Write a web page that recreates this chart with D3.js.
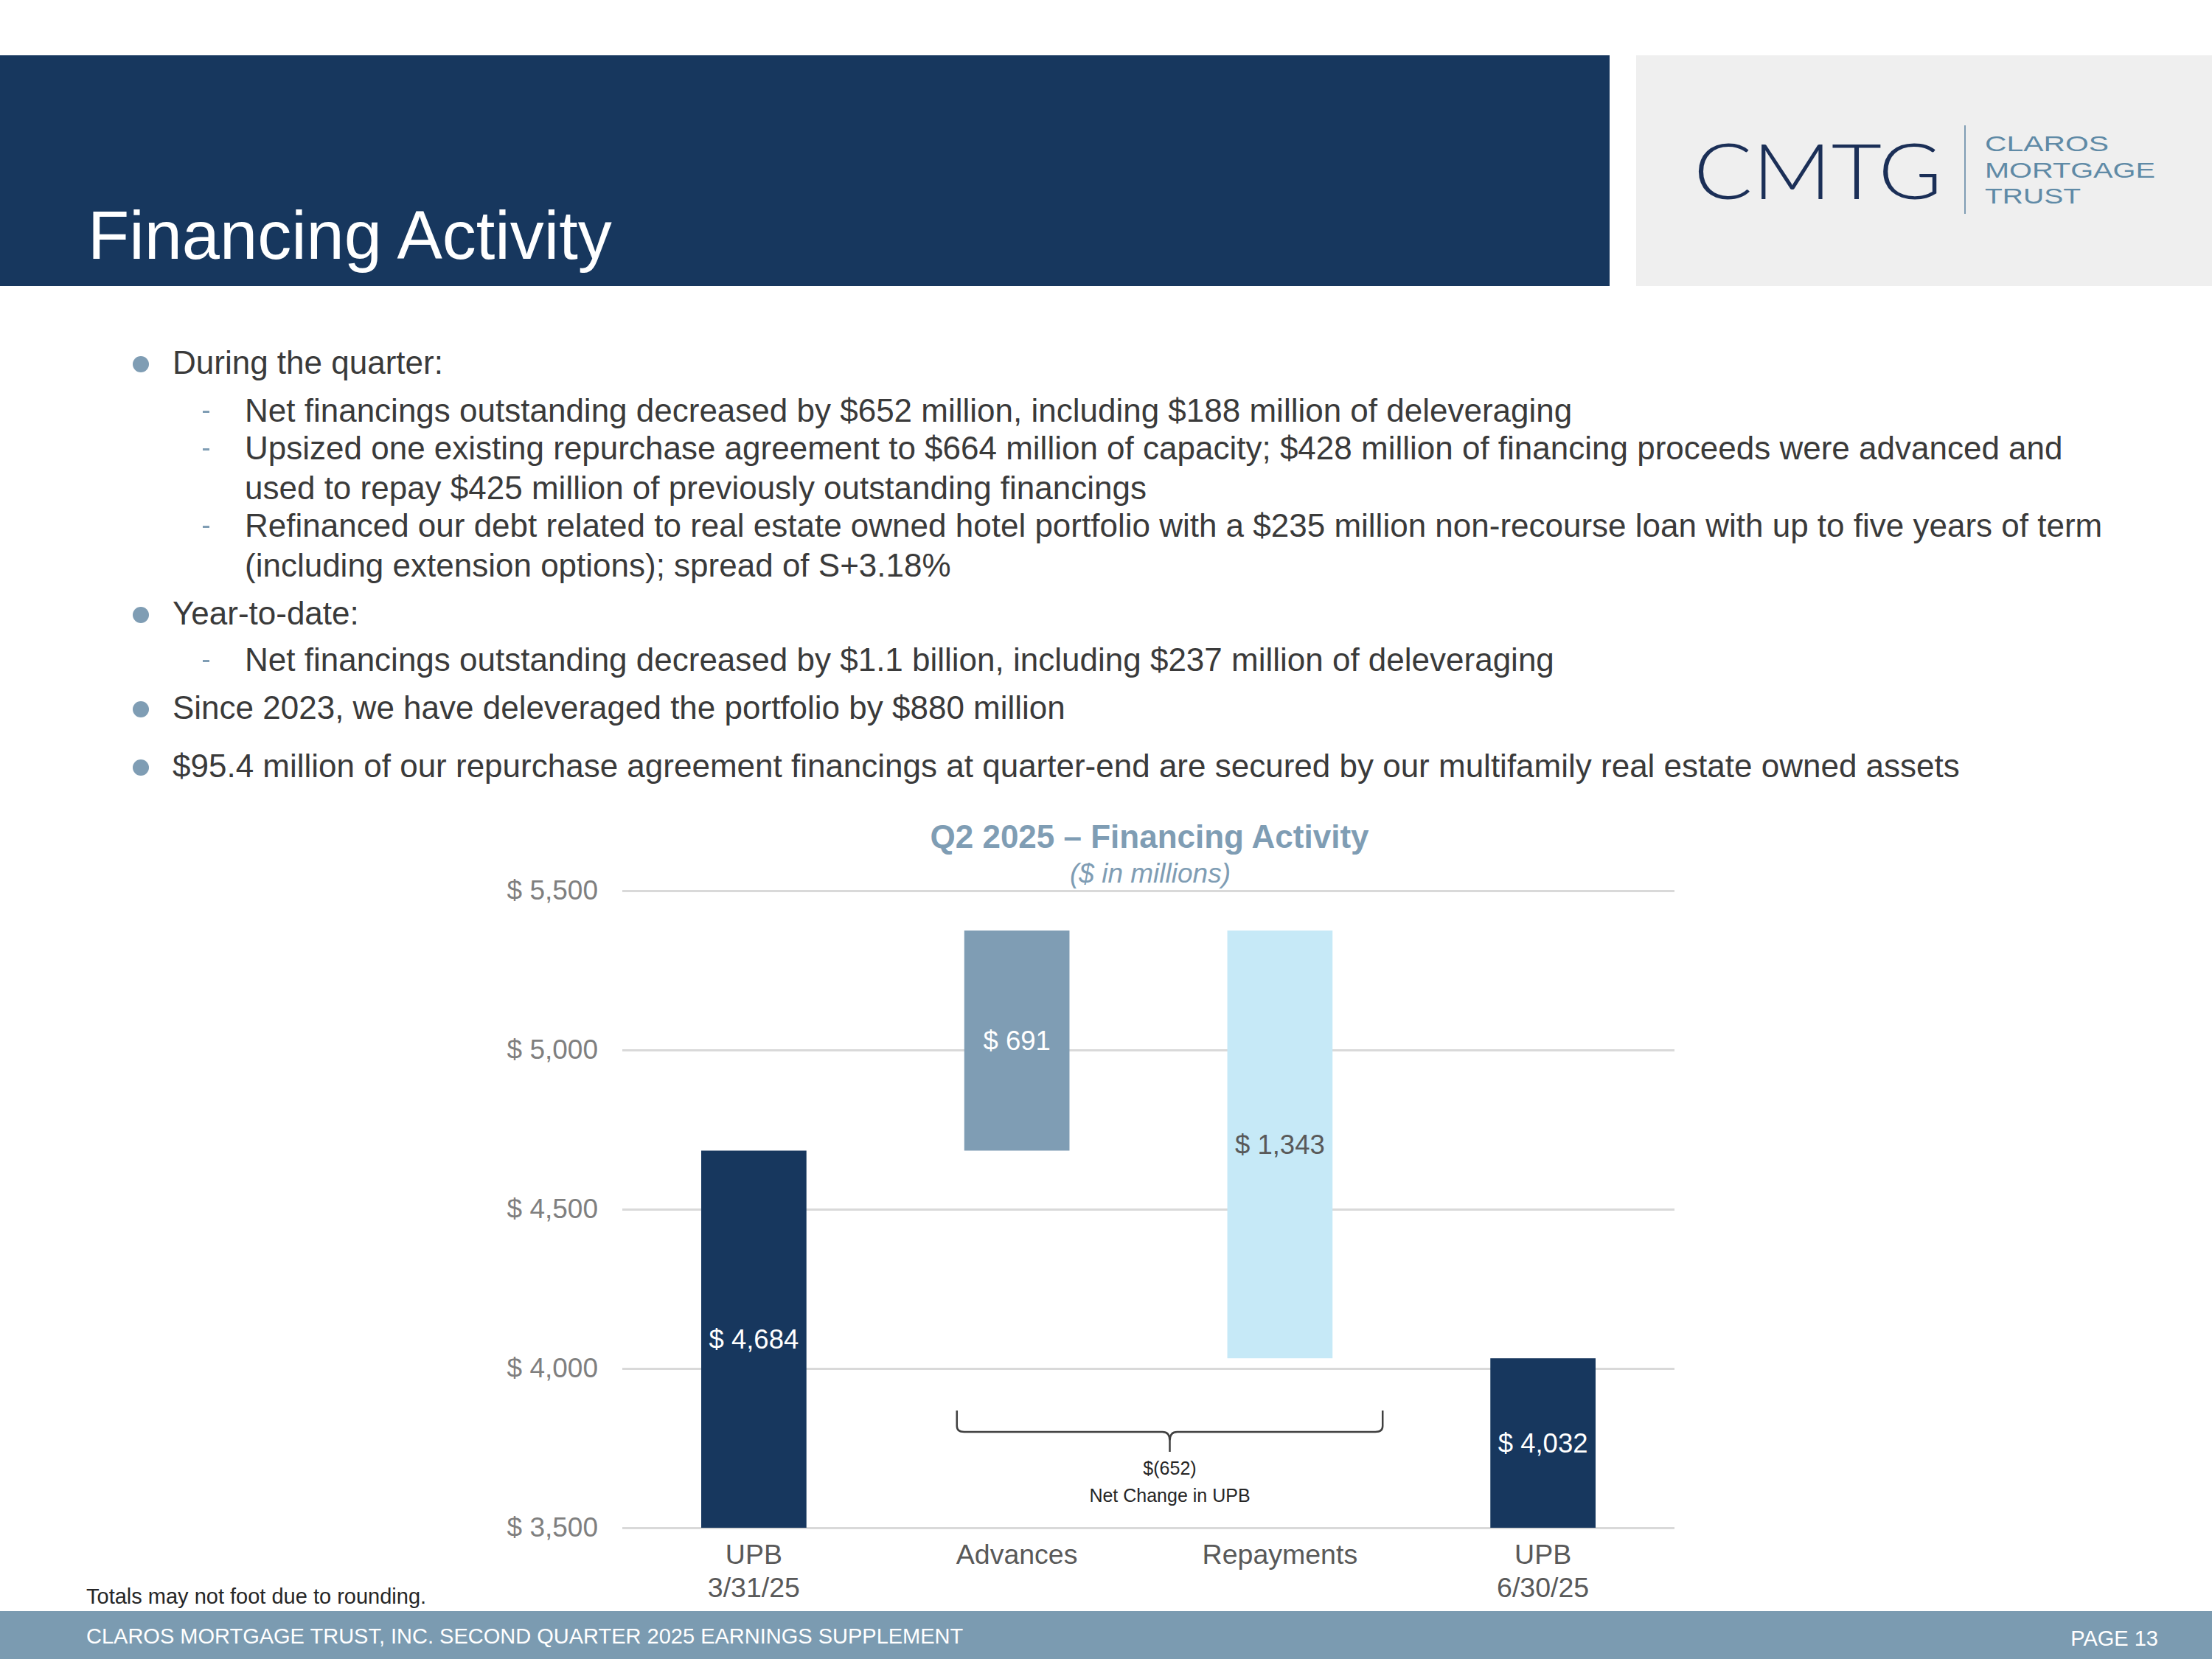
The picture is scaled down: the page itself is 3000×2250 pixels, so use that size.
<!DOCTYPE html>
<html lang="en">
<head>
<meta charset="utf-8">
<title>Financing Activity</title>
<script src="https://cdn.jsdelivr.net/npm/d3@7"></script>
<style>
  body { margin: 0; background: #fff; }
  svg { display: block; font-family: Arial, "Liberation Sans", sans-serif; }
</style>
</head>
<body>
<svg id="page" width="3000" height="2250"></svg>
<script>
// chart data ($ in millions)
const categories = ["UPB 3/31/25", "Advances", "Repayments", "UPB 6/30/25"];
const catLabels = [["UPB", "3/31/25"], ["Advances"], ["Repayments"], ["UPB", "6/30/25"]];
const values = [4684, 691, -1343, 4032];
const kinds = ["total", "delta", "delta", "total"];
const barColors = ["#17375e", "#7f9db4", "#c6e9f7", "#17375e"];
const labelColors = ["#ffffff", "#ffffff", "#595959", "#ffffff"];
const yTicks = [3500, 4000, 4500, 5000, 5500];
const netChange = -652;

// slide text
const bullets = [
  {level: 1, lines: ["During the quarter:"]},
  {level: 2, lines: ["Net financings outstanding decreased by $652 million, including $188 million of deleveraging"]},
  {level: 2, lines: ["Upsized one existing repurchase agreement to $664 million of capacity; $428 million of financing proceeds were advanced and",
                     "used to repay $425 million of previously outstanding financings"]},
  {level: 2, lines: ["Refinanced our debt related to real estate owned hotel portfolio with a $235 million non-recourse loan with up to five years of term",
                     "(including extension options); spread of S+3.18%"]},
  {level: 1, lines: ["Year-to-date:"]},
  {level: 2, lines: ["Net financings outstanding decreased by $1.1 billion, including $237 million of deleveraging"]},
  {level: 1, lines: ["Since 2023, we have deleveraged the portfolio by $880 million"]},
  {level: 1, lines: ["$95.4 million of our repurchase agreement financings at quarter-end are secured by our multifamily real estate owned assets"]}
];
const bulletBaselines = [[507], [572], [623, 677], [728, 782], [847], [910], [975], [1054]];

const svg = d3.select("#page");

// header band + logo box
svg.append("rect").attr("x", 0).attr("y", 75).attr("width", 2183).attr("height", 313).attr("fill", "#17375e");
svg.append("text").attr("x", 119).attr("y", 351).attr("fill", "#fff")
  .attr("font-size", 92).text("Financing Activity");

svg.append("rect").attr("x", 2219).attr("y", 75).attr("width", 781).attr("height", 313).attr("fill", "#efefef");
svg.append("text").attr("x", 2297).attr("y", 270).attr("fill", "#1b2f57")
  .attr("font-size", 104).attr("textLength", 337).attr("lengthAdjust", "spacingAndGlyphs")
  .style("font-family", "Lato, Arial, sans-serif").style("font-weight", 300).text("CMTG");
svg.append("line").attr("x1", 2665).attr("x2", 2665).attr("y1", 170).attr("y2", 290)
  .attr("stroke", "#7f9db4").attr("stroke-width", 2);
const logoWords = ["CLAROS", "MORTGAGE", "TRUST"];
const logoWidths = [168, 231, 130];
logoWords.forEach((w, i) => {
  svg.append("text").attr("x", 2692).attr("y", 205 + i * 35.5).attr("fill", "#5f8aa6")
    .attr("font-size", 30).attr("textLength", logoWidths[i]).attr("lengthAdjust", "spacingAndGlyphs")
    .text(w);
});

// bullets
const bulletG = svg.append("g").attr("fill", "#3a3a3a").attr("font-size", 44);
bullets.forEach((b, i) => {
  const base = bulletBaselines[i];
  if (b.level == 1) {
    bulletG.append("circle").attr("cx", 191).attr("cy", base[0] - 13).attr("r", 11).attr("fill", "#7f9db4");
  } else {
    bulletG.append("rect").attr("x", 275).attr("y", base[0] - 15).attr("width", 9).attr("height", 3).attr("fill", "#7f9db4");
  }
  b.lines.forEach((l, j) => {
    bulletG.append("text").attr("x", b.level == 1 ? 234 : 332).attr("y", base[j]).text(l);
  });
});

// waterfall chart
const x = d3.scaleBand().domain(categories).range([844, 2271]).paddingInner(0.6).paddingOuter(0.3);
const y = d3.scaleLinear().domain([3500, 5500]).range([2072, 1208]);

let running = 0;
const bars = categories.map((c, i) => {
  let lo, hi;
  if (kinds[i] == "total") {
    lo = y.domain()[0]; hi = values[i]; running = values[i];
  } else {
    lo = running; hi = running + values[i]; running = hi;
  }
  return {cat: c, lo: Math.min(lo, hi), hi: Math.max(lo, hi), v: values[i], i: i};
});

const chart = svg.append("g");

chart.append("text").attr("x", 1559).attr("y", 1150).attr("text-anchor", "middle")
  .attr("font-size", 44).attr("font-weight", "bold").attr("fill", "#7f9db4")
  .text("Q2 2025 \u2013 Financing Activity");
chart.append("text").attr("x", 1560).attr("y", 1197).attr("text-anchor", "middle")
  .attr("font-size", 37).attr("font-style", "italic").attr("fill", "#7f9db4")
  .text("($ in millions)");

const yAxis = chart.append("g").attr("transform", "translate(844,0)")
  .call(d3.axisLeft(y).tickValues(yTicks).tickSize(-(2271 - 844)).tickPadding(33)
    .tickFormat(d => "$ " + d3.format(",")(d)));
yAxis.select(".domain").remove();
yAxis.selectAll(".tick line").attr("stroke", "#d9d9d9").attr("stroke-width", 3);
yAxis.selectAll(".tick text").attr("fill", "#7f7f7f").attr("font-size", 37)
  .style("font-family", "Arial, 'Liberation Sans', sans-serif");

chart.append("g").selectAll("rect").data(bars).enter()
  .append("rect")
  .attr("x", d => x(d.cat))
  .attr("width", x.bandwidth())
  .attr("y", d => y(d.hi))
  .attr("height", d => y(d.lo) - y(d.hi))
  .attr("fill", d => barColors[d.i]);

chart.append("g").selectAll("text").data(bars).enter()
  .append("text")
  .attr("x", d => x(d.cat) + x.bandwidth() / 2)
  .attr("y", d => (y(d.lo) + y(d.hi)) / 2)
  .attr("dy", "0.35em")
  .attr("text-anchor", "middle")
  .attr("font-size", 36.5)
  .attr("fill", d => labelColors[d.i])
  .text(d => "$ " + d3.format(",")(Math.abs(d.v)));

const xLab = chart.append("g").selectAll("text").data(categories).enter()
  .append("text")
  .attr("text-anchor", "middle")
  .attr("font-size", 37.5)
  .attr("fill", "#595959");
xLab.each(function(c, i) {
  catLabels[i].forEach((l, j) => {
    d3.select(this).append("tspan")
      .attr("x", x(c) + x.bandwidth() / 2)
      .attr("y", 2121 + j * 45)
      .text(l);
  });
});

// brace for net change between advances and repayments
const bL = x("Advances") - 10, bR = x("Repayments") + x.bandwidth() + 68;
const bTop = 1913, bH = 1942, bTip = 1969, tx = (bL + bR) / 2;
chart.append("path")
  .attr("d", `M${bL},${bTop} V${bH - 8} Q${bL},${bH} ${bL + 10},${bH} H${tx - 10} Q${tx},${bH} ${tx},${bH + 12} V${bTip}
              M${tx},${bH + 12} Q${tx},${bH} ${tx + 10},${bH} H${bR - 10} Q${bR},${bH} ${bR},${bH - 8} V${bTop}`)
  .attr("fill", "none").attr("stroke", "#404040").attr("stroke-width", 2.5);
chart.append("text").attr("x", tx).attr("y", 2000).attr("text-anchor", "middle")
  .attr("font-size", 25).attr("fill", "#262626").text("$(" + Math.abs(netChange) + ")");
chart.append("text").attr("x", tx).attr("y", 2037).attr("text-anchor", "middle")
  .attr("font-size", 25).attr("fill", "#262626").text("Net Change in UPB");

// footnote + footer
svg.append("text").attr("x", 117).attr("y", 2175).attr("font-size", 29).attr("fill", "#262626")
  .text("Totals may not foot due to rounding.");
svg.append("rect").attr("x", 0).attr("y", 2185).attr("width", 3000).attr("height", 65).attr("fill", "#7b9bb1");
svg.append("text").attr("x", 117).attr("y", 2229).attr("font-size", 29).attr("fill", "#fff")
  .text("CLAROS MORTGAGE TRUST, INC. SECOND QUARTER 2025 EARNINGS SUPPLEMENT");
svg.append("text").attr("x", 2927).attr("y", 2232).attr("text-anchor", "end").attr("font-size", 29).attr("fill", "#fff")
  .text("PAGE 13");
</script>
</body>
</html>
